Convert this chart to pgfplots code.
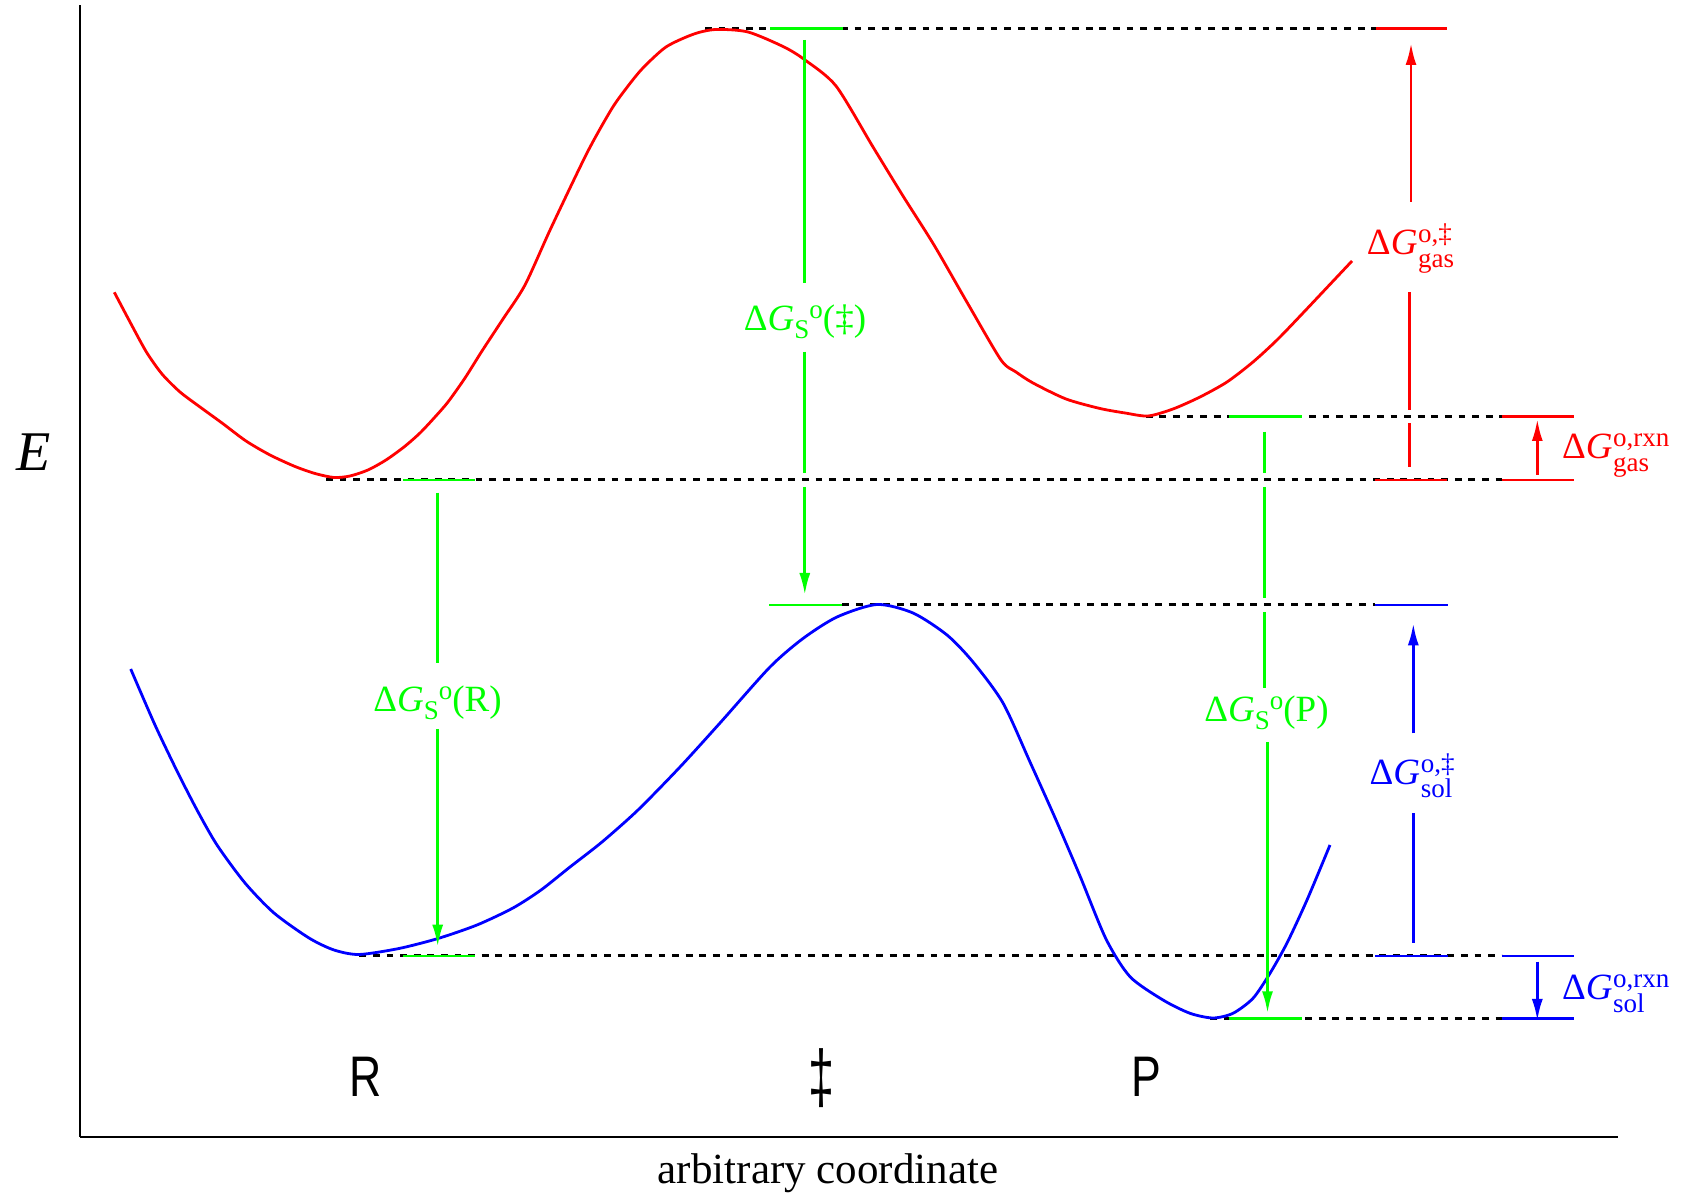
\documentclass[border=0pt]{standalone}
\usepackage{pgfplots}
\pgfplotsset{compat=1.18}
\usetikzlibrary{arrows.meta}
\usepackage{graphicx}
\usepackage{fontspec}
\setmainfont{Liberation Serif}
\newfontfamily\sansfont{Liberation Sans}
\definecolor{gr}{RGB}{0,255,0}
\newcommand{\sfs}{\fontsize{13.5}{14}\selectfont}
\newcommand{\lab}{\fontsize{18.5}{20}\selectfont}
\newsavebox{\supbox}\newsavebox{\subbox}
\newcommand{\subsup}[2]{%
  \sbox{\supbox}{\sfs #1}\sbox{\subbox}{\sfs #2}%
  \rlap{\raisebox{6pt}{\usebox{\supbox}}}\raisebox{-6.5pt}{\usebox{\subbox}}%
  \ifdim\wd\supbox>\wd\subbox \hspace{\dimexpr\wd\supbox-\wd\subbox\relax}\fi}
\newcommand{\dGg}[2]{Δ\textit{G}\kern0.3pt\subsup{#1}{#2}}
\newcommand{\dGS}[1]{Δ\textit{G}\raisebox{-4pt}{\sfs S}\raisebox{6pt}{\sfs o}(#1)}
\newcommand{\bl}[1]{\scalebox{0.78}[1]{\sansfont\fontsize{28.6}{30}\selectfont #1}}
\begin{document}
\begin{tikzpicture}
\begin{axis}[
  x=0.5pt, y=0.5pt,
  xmin=79.6, xmax=1618.3, ymin=-1136.6, ymax=-5.4,
  axis x line*=bottom, axis y line*=left,
  axis line style={line width=1pt, black},
  xtick=\empty, ytick=\empty,
  clip=false,
  xlabel={arbitrary coordinate},
  ylabel={\textit{E}},
  every axis x label/.style={at={(axis cs:828,-1184)}, anchor=base, font=\fontsize{21.5}{24}\selectfont},
  every axis y label/.style={at={(axis cs:34,-452)}, anchor=center, font=\fontsize{28}{30}\selectfont},
  dsh/.style={black, line width=1.5pt, dash pattern=on 3.4pt off 3.4pt},
  seg/.style={line width=1.4pt},
  arr/.style={-{Latex[length=11pt,width=5.5pt]}},
]
% invisible frame giving the picture the reference size
\path (axis cs:0,0) rectangle (axis cs:1686,-1199);

% dashed reference levels
\addplot[dsh] coordinates {(705,-28.3) (1376,-28.3)};
\addplot[dsh] coordinates {(326,-480) (1501.7,-480)};
\addplot[dsh] coordinates {(1145.7,-416.7) (1501.7,-416.7)};
\addplot[dsh] coordinates {(842.3,-605) (1375,-605)};
\addplot[dsh] coordinates {(359.3,-956) (1501.7,-956)};
\addplot[dsh] coordinates {(1210,-1018.3) (1501.7,-1018.3)};

% gas-phase curve
\addplot[red, line width=1.4pt, smooth, tension=0.45] coordinates {
(114.3,-292.3) (130,-322) (146.4,-352) (162,-374) (180,-392) (200,-407) (222,-423) (246,-441) (270,-455) (295,-466.5) (315,-473.5) (334,-477.5) (350,-476) (368,-470) (386,-460) (404,-447) (420,-433) (435,-417) (448,-402) (465,-378) (482,-351) (503,-319) (525,-285) (551,-228) (587,-153) (611,-110) (625,-90) (642,-69) (666,-47) (694,-34) (716,-29.5) (748,-32) (784,-47) (805,-60) (836,-86) (873,-147) (903,-196) (934,-245) (968,-304) (1001,-360) (1016,-372) (1033,-383) (1066,-399) (1100,-408.5) (1125,-413) (1148,-416) (1173,-409) (1200,-397) (1227,-382) (1253,-362) (1277,-340) (1303,-313) (1352,-261)};

% solution curve
\addplot[blue, line width=1.4pt, smooth, tension=0.45] coordinates {
(130.7,-669) (155,-725) (177,-771) (197,-810) (217,-845) (245,-883) (274,-913) (309,-938) (334,-950) (359,-954.5) (399,-948.5) (438,-938.5) (477,-925) (513,-908) (541,-890) (570,-867) (602,-842) (638,-810) (680,-767) (720,-723) (770,-667) (803,-638.5) (837,-617) (877,-604.5) (913,-613) (947,-635) (973,-662) (1003,-703) (1030,-762) (1056,-820) (1080,-876) (1106,-939) (1130,-976.7) (1163,-1000) (1190,-1013.3) (1213,-1018) (1233,-1013.3) (1253,-998.3) (1270,-973.3) (1287,-943) (1307,-900) (1330,-845)};

% green level marks
\addplot[gr, seg] coordinates {(403,-480) (475,-480)};
\addplot[gr, seg] coordinates {(770,-28.3) (842.5,-28.3)};
\addplot[gr, seg] coordinates {(1229.3,-416.7) (1301.7,-416.7)};
\addplot[gr, seg] coordinates {(403,-956) (475.4,-956)};
\addplot[gr, seg] coordinates {(769.3,-605) (842.3,-605)};
\addplot[gr, seg] coordinates {(1229,-1018.3) (1301.7,-1018.3)};

% red level marks
\addplot[red, seg] coordinates {(1376,-28.3) (1447,-28.3)};
\addplot[red, seg] coordinates {(1375,-480) (1446.7,-480)};
\addplot[red, seg] coordinates {(1501.7,-480) (1574,-480)};
\addplot[red, seg] coordinates {(1501.7,-416.7) (1574,-416.7)};
% blue level marks
\addplot[blue, seg] coordinates {(1375,-605) (1447.7,-605)};
\addplot[blue, seg] coordinates {(1375,-956) (1447.7,-956)};
\addplot[blue, seg] coordinates {(1501.7,-956) (1574,-956)};
\addplot[blue, seg] coordinates {(1501.7,-1018.3) (1574,-1018.3)};

% green solvation arrows
\addplot[gr, seg] coordinates {(437.5,-492.7) (437.5,-663)};
\addplot[gr, seg, arr] coordinates {(437.7,-729) (437.7,-946.7)};
\node[text=gr, font=\lab] at (axis cs:437.5,-703) {\dGS{R}};

\addplot[gr, seg] coordinates {(804.3,-40) (804.3,-283.3)};
\addplot[gr, seg] coordinates {(804.8,-351.7) (804.8,-473)};
\addplot[gr, seg, arr] coordinates {(804.8,-487) (804.8,-595)};
\node[text=gr, font=\lab] at (axis cs:805,-322) {\dGS{‡}};

\addplot[gr, seg] coordinates {(1264.5,-431.7) (1264.5,-473)};
\addplot[gr, seg] coordinates {(1264.5,-487) (1264.5,-598)};
\addplot[gr, seg] coordinates {(1264.5,-612) (1264.5,-688)};
\addplot[gr, seg, arr] coordinates {(1267.5,-742) (1267.5,-1013.3)};
\node[text=gr, font=\lab] at (axis cs:1266.5,-713) {\dGS{P}};

% red gas-phase arrows
\addplot[red, seg, arr] coordinates {(1411,-201.7) (1411,-43)};
\addplot[red, seg] coordinates {(1409.5,-292.3) (1409.5,-410)};
\addplot[red, seg] coordinates {(1409.5,-423.3) (1409.5,-466.7)};
\node[text=red, font=\lab] at (axis cs:1410.5,-249) {\dGg{o,‡}{gas}};
\addplot[red, seg, arr] coordinates {(1537.3,-475) (1537.3,-419)};
\node[text=red, font=\lab, anchor=west] at (axis cs:1555,-456) {\dGg{o,rxn}{gas}};

% blue solution arrows
\addplot[blue, seg, arr] coordinates {(1413.3,-733.3) (1413.3,-623.3)};
\addplot[blue, seg] coordinates {(1413.3,-813.3) (1413.3,-943.3)};
\node[text=blue, font=\lab] at (axis cs:1411,-776) {\dGg{o,‡}{sol}};
\addplot[blue, seg, arr] coordinates {(1537.3,-961.7) (1537.3,-1021)};
\node[text=blue, font=\lab, anchor=west] at (axis cs:1555,-994) {\dGg{o,rxn}{sol}};

% state labels
\node[anchor=base] at (axis cs:365.6,-1097) {\bl{R}};
\node[anchor=base] at (axis cs:821.5,-1103) {\scalebox{1.05}[1.3]{\bl{‡}}};
\node[anchor=base] at (axis cs:1146.5,-1097) {\bl{P}};
\end{axis}
\end{tikzpicture}
\end{document}
